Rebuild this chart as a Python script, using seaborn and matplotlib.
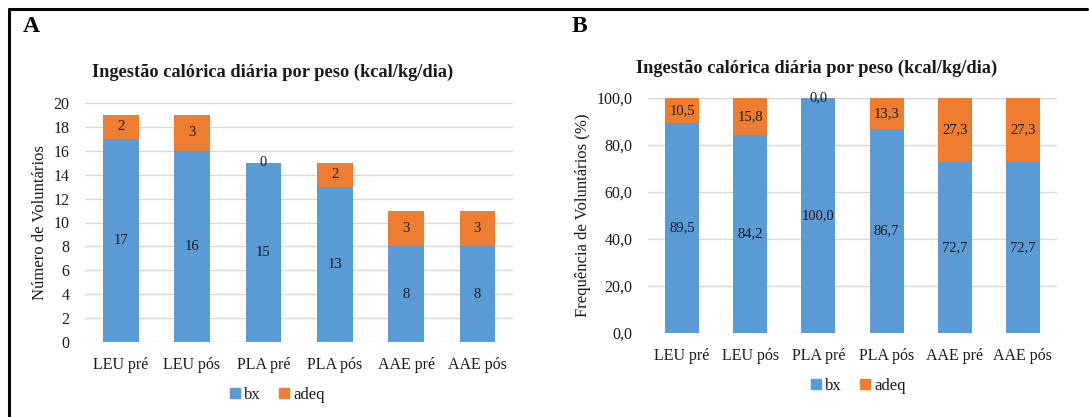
import matplotlib
matplotlib.use("Agg")
import matplotlib.pyplot as plt
import seaborn as sns
import pandas as pd
from matplotlib.lines import Line2D

categories = ["LEU pré", "LEU pós", "PLA pré", "PLA pós", "AAE pré", "AAE pós"]
bx_count = [17, 16, 15, 13, 8, 8]
adeq_count = [2, 3, 0, 2, 3, 3]
bx_pct = [89.5, 84.2, 100.0, 86.7, 72.7, 72.7]
adeq_pct = [10.5, 15.8, 0.0, 13.3, 27.3, 27.3]

title = "Ingestão calórica diária por peso (kcal/kg/dia)"
blue = "#5B9BD5"
orange = "#ED7D31"
grid = "#D9D9D9"
txt = "#1a1a1a"

sns.set_theme(style="white")
plt.rcParams["font.family"] = ["Liberation Serif", "DejaVu Serif"]

fig = plt.figure(figsize=(10.89, 4.17), dpi=100)

def panel(rect, bx, adeq, ylim, step, ylabel, fmt):
    ax = fig.add_axes(rect)
    df = pd.DataFrame({"cat": categories, "bx": bx, "adeq": adeq})
    df["total"] = df["bx"] + df["adeq"]
    sns.barplot(data=df, x="cat", y="total", color=orange, saturation=1,
                width=0.5, ax=ax, linewidth=0)
    sns.barplot(data=df, x="cat", y="bx", color=blue, saturation=1,
                width=0.5, ax=ax, linewidth=0)
    ax.set_ylim(*ylim)
    ax.set_xlim(-0.5, len(categories) - 0.5)
    ticks = [ylim[0] + i * step for i in range(int((ylim[1] - ylim[0]) / step) + 1)]
    ax.set_yticks(ticks)
    ax.set_yticklabels([fmt(t) for t in ticks])
    ax.yaxis.grid(True, color=grid, linewidth=1)
    ax.set_axisbelow(True)
    for s in ax.spines.values():
        s.set_visible(False)
    ax.tick_params(axis="both", length=0, labelsize=11.5, colors=txt)
    ax.tick_params(axis="y", pad=11)
    ax.tick_params(axis="x", pad=11)
    ax.set_xlabel("")
    ax.set_ylabel(ylabel, fontsize=12, color=txt, labelpad=4)
    for i in range(len(categories)):
        ax.text(i, bx[i] / 2, fmt(bx[i]), ha="center", va="center", fontsize=10.5, color=txt)
        ax.text(i, bx[i] + adeq[i] / 2, fmt(adeq[i]), ha="center", va="center", fontsize=10.5, color=txt)
    return ax

fmt_int = lambda v: f"{int(round(v))}"
fmt_dec = lambda v: f"{v:.1f}".replace(".", ",")

axA = panel([85 / 1089, 1 - 342 / 417, 428 / 1089, 239 / 417], bx_count, adeq_count,
            (0, 20), 2, "Número de Voluntários", fmt_int)
axB = panel([648 / 1089, 1 - 333 / 417, 409 / 1089, 235 / 417], bx_pct, adeq_pct,
            (0, 100), 20, "Frequência de Voluntários (%)", fmt_dec)

fig.text(273 / 1089, 1 - 72 / 417, title, ha="center", va="center", fontsize=13.2,
         fontweight="bold", color=txt)
fig.text(817 / 1089, 1 - 68 / 417, title, ha="center", va="center", fontsize=13.2,
         fontweight="bold", color=txt)
fig.text(23 / 1089, 1 - 27 / 417, "A", ha="left", va="center", fontsize=17, fontweight="bold", color="black")
fig.text(572 / 1089, 1 - 27 / 417, "B", ha="left", va="center", fontsize=17, fontweight="bold", color="black")

handles = [Line2D([], [], marker="s", linestyle="", markersize=7.5, color=blue, label="bx"),
           Line2D([], [], marker="s", linestyle="", markersize=7.5, color=orange, label="adeq")]
for cx, cy in [(276, 395), (857, 386)]:
    leg = fig.legend(handles=handles, loc="center", bbox_to_anchor=(cx / 1089, 1 - cy / 417), ncol=2,
                     frameon=False, fontsize=12, handletextpad=0.05, columnspacing=0.9, handlelength=1.0)
    for t in leg.get_texts():
        t.set_color(txt)

fig.add_artist(Line2D([9 / 1089, 1087 / 1089], [1 - 9 / 417, 1 - 9 / 417], color="black", linewidth=2.2))
fig.add_artist(Line2D([9 / 1089, 9 / 1089], [1 - 9 / 417, 0], color="black", linewidth=2.2))

fig.savefig("out.png", dpi=100)
